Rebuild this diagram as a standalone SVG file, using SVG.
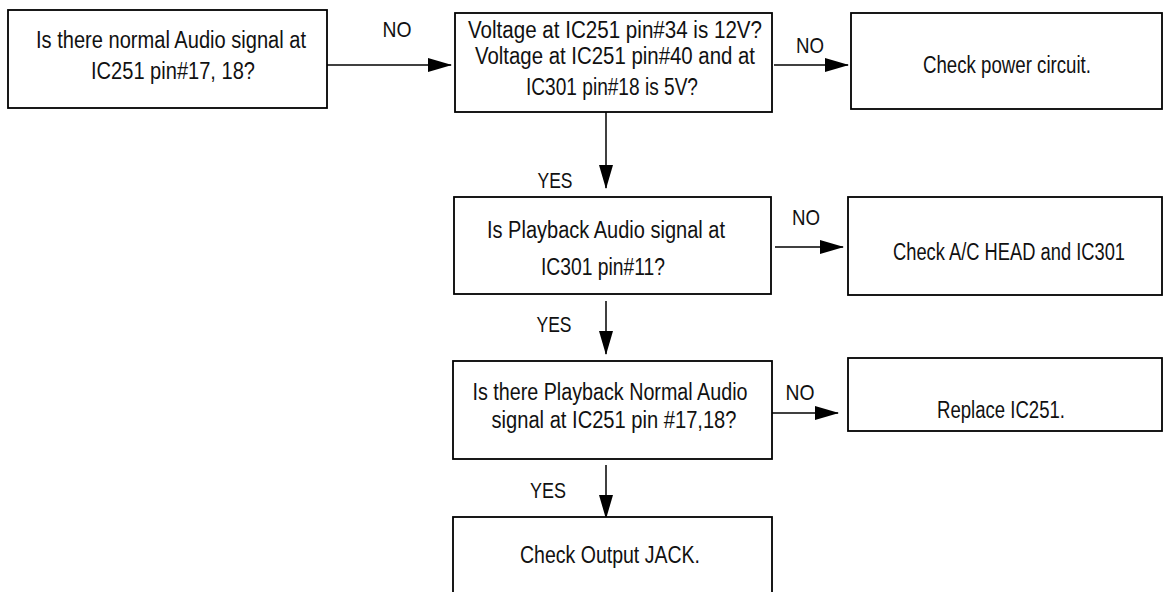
<svg xmlns="http://www.w3.org/2000/svg" width="1163" height="592" viewBox="0 0 1163 592">
<style>
.box{fill:#fff;stroke:#000;stroke-width:1.8}
.t{font-family:"Liberation Sans",Arial,sans-serif;font-size:23px;fill:#111;text-anchor:middle}
.l{font-family:"Liberation Sans",Arial,sans-serif;font-size:22px;fill:#111;text-anchor:middle}
.c{stroke:#000;stroke-width:1.5;fill:none;marker-end:url(#ah)}
</style>
<defs>
<marker id="ah" markerUnits="userSpaceOnUse" markerWidth="24" markerHeight="14" refX="23" refY="7" orient="auto">
<path d="M0,0 L24,7 L0,14 Z" fill="#000"/>
</marker>
</defs>
<rect width="1163" height="592" fill="#fff"/>
<g id="connectors">
<line class="c" x1="327" y1="65" x2="451" y2="65"/>
<line class="c" x1="774" y1="65" x2="848" y2="65"/>
<line class="c" x1="606" y1="112" x2="606" y2="188"/>
<line class="c" x1="775" y1="247" x2="843" y2="247"/>
<line class="c" x1="606" y1="301" x2="606" y2="354"/>
<line class="c" x1="768" y1="413" x2="838" y2="413"/>
<line class="c" x1="606" y1="465" x2="606" y2="518"/>
<text class="l" x="397" y="37" textLength="29" lengthAdjust="spacingAndGlyphs">NO</text>
<text class="l" x="810" y="53" textLength="28" lengthAdjust="spacingAndGlyphs">NO</text>
<text class="l" x="555" y="188" textLength="35" lengthAdjust="spacingAndGlyphs">YES</text>
<text class="l" x="806" y="225" textLength="28" lengthAdjust="spacingAndGlyphs">NO</text>
<text class="l" x="554" y="332" textLength="35" lengthAdjust="spacingAndGlyphs">YES</text>
<text class="l" x="800" y="400" textLength="29" lengthAdjust="spacingAndGlyphs">NO</text>
<text class="l" x="548" y="498" textLength="36" lengthAdjust="spacingAndGlyphs">YES</text>
</g>
<g id="n1">
<rect class="box" x="8" y="10" width="319" height="98"/>
<text class="t" x="171" y="48" textLength="270" lengthAdjust="spacingAndGlyphs">Is there  normal Audio signal at</text>
<text class="t" x="173" y="79" textLength="164" lengthAdjust="spacingAndGlyphs">IC251 pin#17, 18?</text>
</g>
<g id="n2">
<rect class="box" x="455" y="13" width="317" height="99"/>
<text class="t" x="615" y="38" textLength="294" lengthAdjust="spacingAndGlyphs">Voltage  at IC251 pin#34  is 12V?</text>
<text class="t" x="615" y="64" textLength="280" lengthAdjust="spacingAndGlyphs">Voltage  at  IC251 pin#40 and at</text>
<text class="t" x="612" y="95" textLength="172" lengthAdjust="spacingAndGlyphs">IC301 pin#18 is 5V?</text>
</g>
<g id="n3">
<rect class="box" x="851" y="13" width="311" height="96"/>
<text class="t" x="1007" y="73" textLength="168" lengthAdjust="spacingAndGlyphs">Check power circuit.</text>
</g>
<g id="n4">
<rect class="box" x="454" y="197" width="317" height="97"/>
<text class="t" x="606" y="238" textLength="238" lengthAdjust="spacingAndGlyphs">Is Playback Audio signal at</text>
<text class="t" x="603" y="275" textLength="124" lengthAdjust="spacingAndGlyphs">IC301 pin#11?</text>
</g>
<g id="n5">
<rect class="box" x="848" y="197" width="314" height="98"/>
<text class="t" x="1009" y="260" textLength="232" lengthAdjust="spacingAndGlyphs">Check A/C HEAD and IC301</text>
</g>
<g id="n6">
<rect class="box" x="453" y="361" width="319" height="98"/>
<text class="t" x="610" y="400" textLength="275" lengthAdjust="spacingAndGlyphs">Is there Playback Normal Audio</text>
<text class="t" x="614" y="428" textLength="245" lengthAdjust="spacingAndGlyphs">signal at IC251 pin #17,18?</text>
</g>
<g id="n7">
<rect class="box" x="848" y="358" width="314" height="73"/>
<text class="t" x="1001" y="418" textLength="128" lengthAdjust="spacingAndGlyphs">Replace IC251.</text>
</g>
<g id="n8">
<rect class="box" x="453" y="517" width="319" height="90"/>
<text class="t" x="610" y="563" textLength="180" lengthAdjust="spacingAndGlyphs">Check Output JACK.</text>
</g>
</svg>
